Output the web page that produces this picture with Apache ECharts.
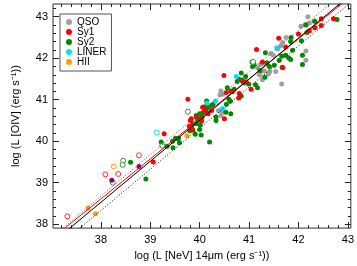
<!DOCTYPE html>
<html><head><meta charset="utf-8">
<script src="https://cdn.jsdelivr.net/npm/echarts@6/dist/echarts.min.js"></script>
<style>html,body{margin:0;padding:0;background:#fff}#c{width:357px;height:266px}</style>
</head><body><div id="c"></div>
<script>
const xTicks=[38,39,40,41,42,43];
const yTicks=[38,39,40,41,42,43];
const xTitle='log (L [NeV] 14\u03bcm (erg s\u207b\u00b9))';
const yTitle='log (L [OIV] (erg s\u207b\u00b9))';
const legendNames=['QSO','Sy1','Sy2','LINER','HII'];

const qso=[[41.17,41.77],[41.23,41.85],[41.29,41.88],[41.35,41.86],[41.31,41.69],[41.24,41.68],[41.21,41.60],[41.39,41.62],[41.42,41.68],
[40.43,41.21],[40.47,41.13],[40.41,41.12],[40.38,40.74],[40.45,40.70],[40.43,40.62],[42.05,42.77],[42.14,42.81],[42.22,42.85],[42.32,42.89],
[42.19,43.0],[41.75,42.50],[41.68,42.38],[41.64,42.30],[41.58,42.22],[41.44,42.11],[41.49,42.07],[42.15,42.17],[41.66,41.38],[42.15,41.95],
[41.54,41.68],[41.27,41.48]];
const sy1=[[39.06,39.50],[39.28,40.18],[39.76,41.01],[39.81,40.50],[39.79,40.36],[39.85,40.27],[40.04,40.49],[40.06,40.82],[40.10,40.74],
[40.17,40.66],[40.24,40.74],[39.83,40.54],[39.93,40.58],[40.50,40.54],[40.49,41.58],[40.54,41.17],[40.66,41.19],[40.80,41.15],[40.79,41.04],
[40.87,41.44],[40.94,41.43],[41.04,41.25],[41.27,41.91],[41.15,42.21],[41.60,42.48],[41.74,42.27],[41.68,41.77],[42.00,42.58],[42.22,42.66],
[42.33,42.73],[42.46,42.79],[42.46,42.95],[42.71,42.95]];
const sy2=[[38.60,39.49],[38.91,39.09],[39.22,39.98],[39.34,39.88],[39.45,40.00],[39.46,39.84],[39.51,40.07],[39.56,40.06],[39.59,39.96],
[39.57,40.07],[39.80,40.25],[39.91,40.17],[40.00,40.28],[40.20,39.98],[39.84,40.32],[39.86,40.42],[39.96,40.50],[40.00,40.66],[40.03,40.54],
[39.86,40.27],[40.03,40.15],[40.14,40.97],[40.17,40.82],[40.24,40.86],[40.27,40.89],[40.53,40.70],[40.63,40.66],[40.33,40.58],[40.33,40.50],
[40.56,41.29],[40.63,41.21],[40.70,41.25],[40.84,41.09],[40.59,41.01],[40.62,40.96],[40.54,40.89],[40.84,41.64],[40.99,41.38],[41.06,41.91],
[41.10,41.85],[41.07,41.80],[41.36,41.89],[41.32,41.54],[41.17,41.29],[41.13,41.36],[41.33,42.13],[41.66,42.05],[41.74,42.07],[41.88,42.19],
[41.80,42.01],[41.84,41.97],[42.08,42.07],[41.22,41.70],[41.41,41.80],[41.51,41.83],[41.61,41.95],[41.84,42.40],[41.85,42.50],[42.15,42.80],
[42.17,42.62],[42.06,42.42],[42.33,42.89],[42.78,42.93],[42.08,41.85],[41.67,41.78],[40.76,41.44],[40.79,41.50],[40.86,41.47],[40.93,41.56],
[40.90,41.40],[39.92,40.42],[40.01,40.39],[39.98,40.54],[39.93,40.62],[40.03,40.66],[40.08,40.70],[40.05,40.58],[40.13,40.74],[40.10,40.83]];
const liner=[[40.15,40.92],[40.32,40.97],[40.46,40.79],[40.74,41.56],[41.56,42.25]];
const hii=[[37.74,38.39],[37.89,38.25],[39.74,40.13]];
const openRed=[[37.32,38.19],[38.09,39.20],[38.35,39.21],[38.77,39.66]];
const openOrange=[[38.26,39.39]];
const openGreen=[[38.24,39.00],[38.45,39.53],[38.44,39.43],[39.24,39.89],[39.76,40.71],[41.08,41.91]];
const openCyan=[[39.13,40.21]];
const purple=[[38.22,39.06],[38.77,39.39]];
// fits: [slope, intercept]
const fitBlack=[0.989,0.946];
const fitRed=[0.964,1.978];
const fitUpper=[0.998,0.75];
const fitLower=[0.991,0.674];

const XMIN=37.03,XMAX=43.06,YMIN=37.906,YMAX=43.305;
const FONT='"Liberation Sans", Arial, sans-serif';
function minors(a,b){const o=[];for(let v=Math.ceil(a*5);v<=Math.floor(b*5);v++){if(v%5!==0)o.push(+(v/5).toFixed(1));}return o;}
const xMin=minors(XMIN,XMAX), yMin=minors(YMIN,YMAX);
function ax(isX,pos,vals,len,labels,extra){
  const o={type:'value',position:pos,min:isX?XMIN:YMIN,max:isX?XMAX:YMAX,
    axisLine:{show:false},splitLine:{show:false},
    axisTick:{show:true,inside:true,length:len,customValues:vals,lineStyle:{color:'#222',width:1}},
    axisLabel:{show:labels,customValues:vals,color:'#000',fontFamily:FONT,fontSize:11,margin:isX?6:5}};
  return Object.assign(o,extra||{});
}
function line(fit,color,type){
  return {type:'line',data:[[XMIN-1,fit[0]*(XMIN-1)+fit[1]],[XMAX+1,fit[0]*(XMAX+1)+fit[1]]],
    symbol:'none',clip:true,silent:true,z:5,lineStyle:{color:color,width:1,type:type}};
}
function sc(name,data,color,open){
  return {type:'scatter',name:name,data:data,symbol:'circle',symbolSize:5,
    itemStyle:open?{color:'#fff',opacity:1,borderColor:color,borderWidth:1}:{color:color,opacity:1}};
}
const chart=echarts.init(document.getElementById('c'),null,{renderer:'canvas'});
chart.setOption({
  animation:false,
  textStyle:{fontFamily:FONT},
  grid:{left:53,right:5,top:4,bottom:32,show:true,borderColor:'#333',borderWidth:1,backgroundColor:'transparent'},
  xAxis:[
    ax(true,'bottom',xTicks,6,true,{name:xTitle,nameLocation:'middle',nameGap:17,nameTextStyle:{fontFamily:FONT,fontSize:11,color:'#000'}}),
    ax(true,'bottom',xMin,3,false),
    ax(true,'top',xTicks,6,false),
    ax(true,'top',xMin,3,false)
  ],
  yAxis:[
    ax(false,'left',yTicks,6,true,{name:yTitle,nameLocation:'middle',nameGap:32,nameTextStyle:{fontFamily:FONT,fontSize:11,color:'#000'}}),
    ax(false,'left',yMin,3,false),
    ax(false,'right',yTicks,6,false),
    ax(false,'right',yMin,3,false)
  ],
  legend:{data:legendNames,orient:'vertical',left:60,top:14,icon:'circle',itemWidth:6,itemHeight:6,itemGap:0,
    padding:[3,5,4,6],borderColor:'#555',borderWidth:1,backgroundColor:'#fff',
    textStyle:{fontFamily:FONT,fontSize:10,lineHeight:10,color:'#000'},z:10},
  series:[
    sc('QSO',qso,'#a0a0a0'),
    sc('Sy2',sy2,'#008a00'),
    sc('Sy1',sy1,'#ff0000'),
    sc('LINER',liner,'#00e5f0'),
    sc('HII',hii,'#ffa000'),
    sc('ol_red',openRed,'#ff3030',true),
    sc('ol_orange',openOrange,'#ffa000',true),
    sc('ol_green',openGreen,'#2a9a2a',true),
    sc('ol_cyan',openCyan,'#00e5f0',true),
    sc('purple',purple,'#8a008a'),
    line(fitUpper,'#555',[1,2]),
    line(fitLower,'#111',[1,2]),
    line(fitRed,'#ff0000','solid'),
    line(fitBlack,'#000','solid')
  ]
});
</script></body></html>
